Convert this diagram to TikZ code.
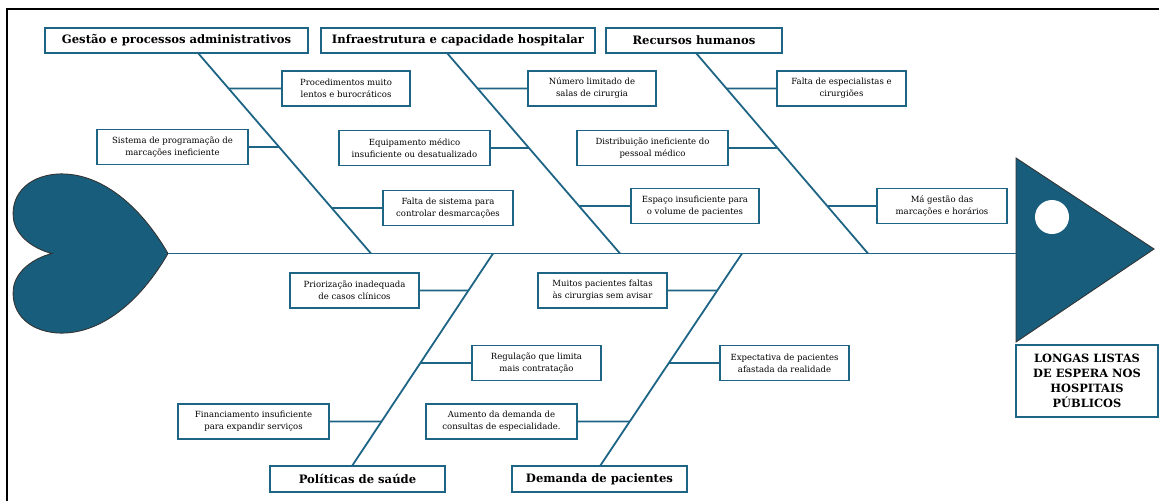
\documentclass[tikz,border=0pt]{standalone}
\usepackage{fontspec}
\setmainfont{DejaVu Serif}
\usepackage{xcolor}
\usetikzlibrary{positioning}

\definecolor{fishblue}{RGB}{30,100,133}
\definecolor{fishfill}{RGB}{24,94,124}

\begin{document}
\begin{tikzpicture}[x=1pt, y=-1pt,
        cat/.style={rectangle, draw=fishblue, line width=1.8pt, fill=white, minimum height=25pt, inner sep=2pt, font=\fontsize{11.6}{13}\selectfont\bfseries},
        cause/.style={rectangle, draw=fishblue, line width=1.8pt, fill=white, minimum height=35pt, inner sep=2pt, align=center, font=\fontsize{8.5}{12}\selectfont},
        effect/.style={rectangle, draw=fishblue, line width=1.8pt, fill=white, align=center, font=\fontsize{11.4}{15}\selectfont\bfseries},
        bone/.style={draw=fishblue, line width=1.8pt},
        fishpart/.style={fill=fishfill, draw=black!80, line width=0.9pt}
        ]
        \useasboundingbox (0,0) rectangle (1159,501);
        \draw[line width=1.8pt] (7,501) -- (7,9) -- (1159,9);

        % tail and head
        \draw[fishpart] (168,253.5) .. controls (140,205) and (100,172) .. (58,174)
            .. controls (25,176) and (9,198) .. (14,222)
            .. controls (19,240) and (38,250) .. (52,253.5)
            .. controls (38,257) and (19,267) .. (14,285)
            .. controls (9,309) and (25,331) .. (58,333)
            .. controls (100,335) and (140,302) .. (168,253.5) -- cycle;
        \draw[fishpart] (1016,158) -- (1154,249) -- (1016,342) -- cycle;
        \fill[white] (1052,217) circle (17);

        \coordinate (tail) at (168,253.5);
        \coordinate (head) at (1016,253.5);

        % categories
        \node[cat, minimum width=263pt] (gestao) at (176.5,40.5) {Gestão e processos administrativos};
        \node[cat, minimum width=274pt] (infra) at (458,40.5) {Infraestrutura e capacidade hospitalar};
        \node[cat, minimum width=176pt] (rh) at (694,40.5) {Recursos humanos};
        \node[cat, minimum width=175pt, minimum height=26pt] (politicas) at (357.5,479) {Políticas de saúde};
        \node[cat, minimum width=175pt, minimum height=26pt] (demanda) at (599.5,479) {Demanda de pacientes};

        \node[effect, minimum width=142pt, minimum height=72pt] (efeito) at (1087,381) {LONGAS LISTAS\\DE ESPERA NOS\\HOSPITAIS\\PÚBLICOS};

        % bones
        \coordinate (g0) at (198,53);  \coordinate (g1) at (371,253.5);
        \coordinate (i0) at (447,53);  \coordinate (i1) at (620,253.5);
        \coordinate (r0) at (696,53);  \coordinate (r1) at (868,253.5);
        \coordinate (p0) at (352,466); \coordinate (p1) at (493,253.5);
        \coordinate (d0) at (600,466); \coordinate (d1) at (742,253.5);

        % causes
        \node[cause, minimum width=128pt] (c11) at (346,88.5) {Procedimentos muito\\lentos e burocráticos};
        \node[cause, minimum width=151pt] (c12) at (172.5,147) {Sistema de programação de\\marcações ineficiente};
        \node[cause, minimum width=130pt] (c13) at (448,208) {Falta de sistema para\\controlar desmarcações};
        \node[cause, minimum width=128pt] (c21) at (592,88.5) {Número limitado de\\salas de cirurgia};
        \node[cause, minimum width=151pt] (c22) at (414.5,148) {Equipamento médico\\insuficiente ou desatualizado};
        \node[cause, minimum width=128pt] (c23) at (695,206) {Espaço insuficiente para\\o volume de pacientes};
        \node[cause, minimum width=129pt] (c31) at (841.5,88.5) {Falta de especialistas e\\cirurgiões};
        \node[cause, minimum width=151pt] (c32) at (652.5,148) {Distribuição ineficiente do\\pessoal médico};
        \node[cause, minimum width=130pt] (c33) at (942,206) {Má gestão das\\marcações e horários};
        \node[cause, minimum width=129pt] (c41) at (354.5,290.5) {Priorização inadequada\\de casos clínicos};
        \node[cause, minimum width=129pt] (c42) at (536.5,363) {Regulação que limita\\mais contratação};
        \node[cause, minimum width=151pt] (c43) at (253.5,421.5) {Financiamento insuficiente\\para expandir serviços};
        \node[cause, minimum width=129pt] (c51) at (602.5,290.5) {Muitos pacientes faltas\\às cirurgias sem avisar};
        \node[cause, minimum width=129pt] (c52) at (784.5,363) {Expectativa de pacientes\\afastada da realidade};
        \node[cause, minimum width=151pt] (c53) at (501.5,421.5) {Aumento da demanda de\\consultas de especialidade.};

        % spine, bones and branches
        \draw[bone] (tail) -- (head);
        \draw[bone] (g0) -- (g1);
        \draw[bone] (i0) -- (i1);
        \draw[bone] (r0) -- (r1);
        \draw[bone] (p0) -- (p1);
        \draw[bone] (d0) -- (d1);

        \draw[bone] (c11.west) -- (intersection of g0--g1 and c11.west--c11.east);
        \draw[bone] (c12.east) -- (intersection of g0--g1 and c12.west--c12.east);
        \draw[bone] (c13.west) -- (intersection of g0--g1 and c13.west--c13.east);
        \draw[bone] (c21.west) -- (intersection of i0--i1 and c21.west--c21.east);
        \draw[bone] (c22.east) -- (intersection of i0--i1 and c22.west--c22.east);
        \draw[bone] (c23.west) -- (intersection of i0--i1 and c23.west--c23.east);
        \draw[bone] (c31.west) -- (intersection of r0--r1 and c31.west--c31.east);
        \draw[bone] (c32.east) -- (intersection of r0--r1 and c32.west--c32.east);
        \draw[bone] (c33.west) -- (intersection of r0--r1 and c33.west--c33.east);
        \draw[bone] (c41.east) -- (intersection of p0--p1 and c41.west--c41.east);
        \draw[bone] (c42.west) -- (intersection of p0--p1 and c42.west--c42.east);
        \draw[bone] (c43.east) -- (intersection of p0--p1 and c43.west--c43.east);
        \draw[bone] (c51.east) -- (intersection of d0--d1 and c51.west--c51.east);
        \draw[bone] (c52.west) -- (intersection of d0--d1 and c52.west--c52.east);
        \draw[bone] (c53.east) -- (intersection of d0--d1 and c53.west--c53.east);
\end{tikzpicture}
\end{document}
